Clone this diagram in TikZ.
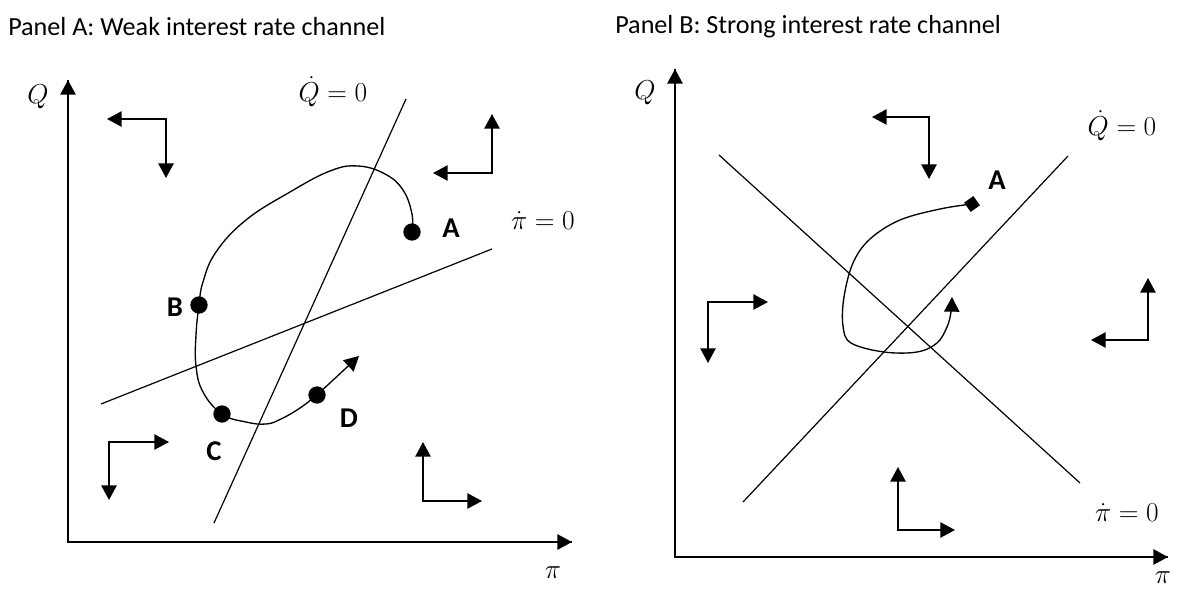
\documentclass[tikz,border=0pt]{standalone}
\usepackage{fix-cm}
\usepackage{fontspec}
\setmainfont{Carlito}
\usetikzlibrary{arrows.meta}
\tikzset{
  axisarrow/.style={line width=1.4pt, -{Triangle[width=11.5pt,length=11pt]}},
  phasearrow/.style={line width=1.2pt, {Triangle[width=11.5pt,length=11pt]}-{Triangle[width=11.5pt,length=11pt]}},
  nullcline/.style={line width=0.9pt},
  traj/.style={line width=1.0pt},
  trajarrow/.style={line width=1.0pt, -{Triangle[width=11.5pt,length=11pt]}},
  dotnode/.style={circle, fill=black, inner sep=0pt, minimum size=13pt},
  diamondnode/.style={rectangle, fill=black, inner sep=0pt, minimum size=8.5pt, rotate=35},
  ptlabel/.style={font=\fontsize{21.5}{24}\selectfont\bfseries},
  mathlabel/.style={font=\fontsize{20.5}{24}\selectfont},
  paneltitle/.style={font=\fontsize{19.6}{22}\selectfont, anchor=west, inner sep=0pt},
}
\begin{document}
\begin{tikzpicture}[x=0.75pt,y=-0.75pt]
\useasboundingbox (0,0) rectangle (1182,589);

% ---------------- Panel A ----------------
\node[paneltitle] (titleA) at (8,27) {Panel A: Weak interest rate channel};

\coordinate (oA) at (68,542);
\coordinate (yA) at (68,80);
\coordinate (xA) at (572,542);
\draw[line width=1.4pt] (yA) -- (oA) -- (xA);
\draw[axisarrow] (oA) -- (yA);
\draw[axisarrow] (oA) -- (xA);
\node[mathlabel] (QA) at (38,97) {$Q$};
\node[mathlabel] (piA) at (553,573) {$\pi$};

% nullclines
\coordinate (qdA1) at (214,523);
\coordinate (qdA2) at (406,99);
\draw[nullcline] (qdA1) -- (qdA2);
\node[mathlabel] (qdlabA) at (333,92) {$\dot{Q}=0$};
\coordinate (pdA1) at (101,404);
\coordinate (pdA2) at (492,249);
\draw[nullcline] (pdA1) -- (pdA2);
\node[mathlabel] (pdlabA) at (543,221) {$\dot{\pi}=0$};

% phase arrows
\coordinate (tlc) at (166,119);
\coordinate (tl1) at (107,119);
\coordinate (tl2) at (166,178);
\draw[phasearrow] (tl1) -- (tlc) -- (tl2);
\coordinate (trc) at (492,173);
\coordinate (tr1) at (433,173);
\coordinate (tr2) at (492,114);
\draw[phasearrow] (tr1) -- (trc) -- (tr2);
\coordinate (blc) at (109,442);
\coordinate (bl1) at (169,442);
\coordinate (bl2) at (109,500);
\draw[phasearrow] (bl1) -- (blc) -- (bl2);
\coordinate (brc) at (423,501);
\coordinate (br1) at (423,442);
\coordinate (br2) at (482,501);
\draw[phasearrow] (br1) -- (brc) -- (br2);

% trajectory
\coordinate (dA) at (412,232);
\coordinate (dB) at (199,305);
\coordinate (dC) at (222,414);
\coordinate (dD) at (317,395);
\coordinate (tipA) at (359,356);
\draw[traj] plot[smooth, tension=0.7] coordinates {(dA) (412,214) (403,190) (385,174) (358,166) (330,171) (290,192) (246,220) (216,252) (203,282) (dB) (196,335) (196,366) (203,392) (dC) (246,422) (266,424) (281,419) (300,408) (dD)};
\draw[trajarrow] (dD) -- (tipA);
\node[dotnode] (ptA) at (dA) {};
\node[dotnode] (ptB) at (dB) {};
\node[dotnode] (ptC) at (dC) {};
\node[dotnode] (ptD) at (dD) {};
\node[ptlabel] (labA) at (451,228) {A};
\node[ptlabel] (labB) at (175,307) {B};
\node[ptlabel] (labC) at (214,451) {C};
\node[ptlabel] (labD) at (349,418) {D};

% ---------------- Panel B ----------------
\node[paneltitle] (titleB) at (615,27) {Panel B: Strong interest rate channel};

\coordinate (oB) at (675,557);
\coordinate (yB) at (675,69);
\coordinate (xB) at (1168,557);
\draw[line width=1.4pt] (yB) -- (oB) -- (xB);
\draw[axisarrow] (oB) -- (yB);
\draw[axisarrow] (oB) -- (xB);
\node[mathlabel] (QB) at (645,93) {$Q$};
\node[mathlabel] (piB) at (1163,578) {$\pi$};

\coordinate (qdB1) at (743,502);
\coordinate (qdB2) at (1068,156);
\draw[nullcline] (qdB1) -- (qdB2);
\node[mathlabel] (qdlabB) at (1122,126) {$\dot{Q}=0$};
\coordinate (pdB1) at (719,155);
\coordinate (pdB2) at (1080,483);
\draw[nullcline] (pdB1) -- (pdB2);
\node[mathlabel] (pdlabB) at (1127,513) {$\dot{\pi}=0$};

\coordinate (btc) at (929,117);
\coordinate (bt1) at (872,117);
\coordinate (bt2) at (929,179);
\draw[phasearrow] (bt1) -- (btc) -- (bt2);
\coordinate (blfc) at (708,302);
\coordinate (blf1) at (768,302);
\coordinate (blf2) at (708,363);
\draw[phasearrow] (blf1) -- (blfc) -- (blf2);
\coordinate (brtc) at (1148,340);
\coordinate (brt1) at (1148,278);
\coordinate (brt2) at (1091,340);
\draw[phasearrow] (brt1) -- (brtc) -- (brt2);
\coordinate (bbc) at (898,530);
\coordinate (bb1) at (898,467);
\coordinate (bb2) at (955,530);
\draw[phasearrow] (bb1) -- (bbc) -- (bb2);

\coordinate (dAB) at (972,204);
\coordinate (tipB) at (952,297);
\draw[trajarrow] plot[smooth, tension=0.6] coordinates {(dAB) (940,209) (900,220) (870,239) (853,263) (844,297) (843,326) (851,343) (884,352) (917,352) (937,343) (947,327) (951,312) (tipB)};
\node[diamondnode] (ptAB) at (dAB) {};
\node[ptlabel] (labAB) at (997,180) {A};

\end{tikzpicture}
\end{document}
